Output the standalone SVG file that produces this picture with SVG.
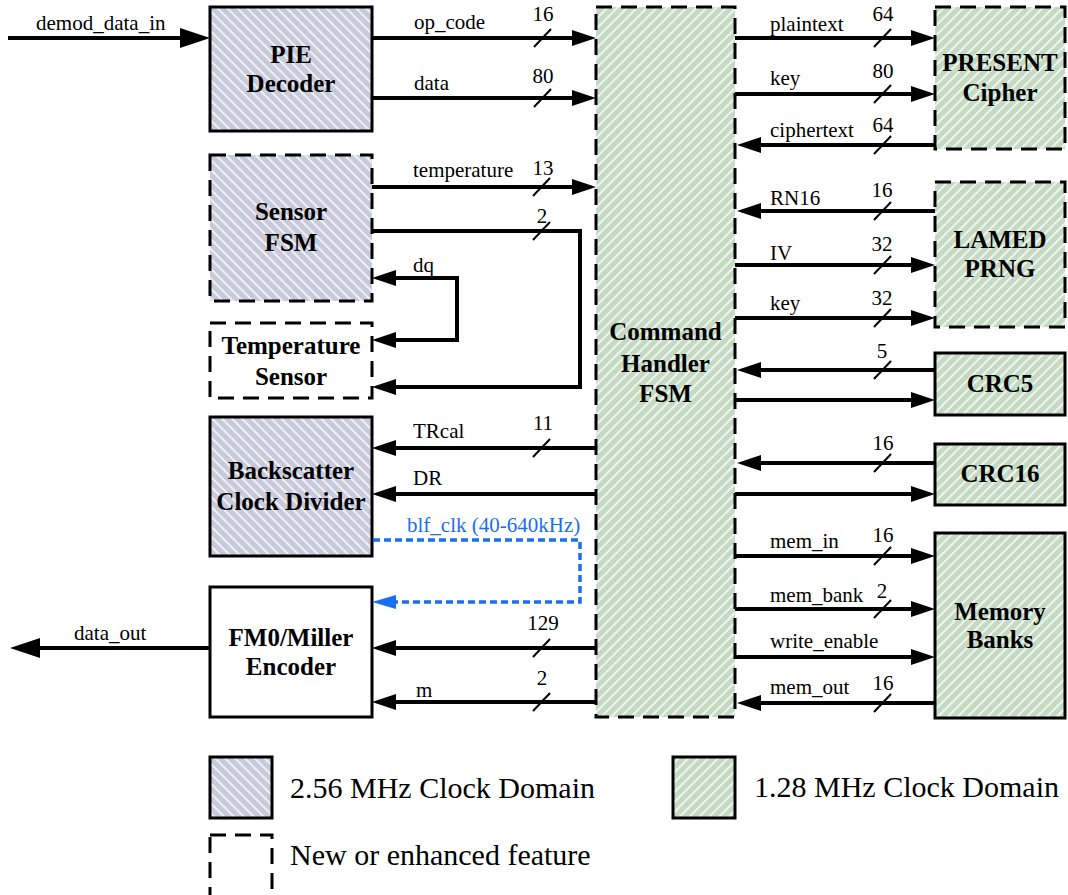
<svg xmlns="http://www.w3.org/2000/svg" width="1068" height="895" viewBox="0 0 1068 895">
<defs>
<pattern id="hb" patternUnits="userSpaceOnUse" width="7" height="7" patternTransform="rotate(-45)">
<rect width="7" height="7" fill="#c8c9da"/>
<line x1="1" y1="0" x2="1" y2="7" stroke="#ffffff" stroke-opacity="0.9" stroke-width="1.6"/>
</pattern>
<pattern id="hg" patternUnits="userSpaceOnUse" width="7" height="7" patternTransform="rotate(45)">
<rect width="7" height="7" fill="#c5dac3"/>
<line x1="1" y1="0" x2="1" y2="7" stroke="#ffffff" stroke-opacity="0.9" stroke-width="1.6"/>
</pattern>
<marker id="ah" markerUnits="userSpaceOnUse" markerWidth="24" markerHeight="16" refX="14" refY="8" orient="auto-start-reverse">
<path d="M0,0 L24,8 L0,16 z" fill="#000"/>
</marker>
<marker id="ahb" markerUnits="userSpaceOnUse" markerWidth="30" markerHeight="20" refX="18" refY="10" orient="auto">
<path d="M0,0 L30,10 L0,20 z" fill="#000"/>
</marker>
<marker id="ahblue" markerUnits="userSpaceOnUse" markerWidth="24" markerHeight="14" refX="14" refY="7" orient="auto">
<path d="M0,0 L24,7 L0,14 z" fill="#1a6ff0"/>
</marker>
</defs>
<style>
.box{stroke:#000;stroke-width:3}
.dash{stroke-dasharray:16 9}
.blk{font-family:"Liberation Serif","Times New Roman",serif;font-size:25px;font-weight:bold;text-anchor:middle;fill:#000}
.lbl{font-family:"Liberation Serif","Times New Roman",serif;font-size:21px;fill:#000}
.num{font-family:"Liberation Serif","Times New Roman",serif;font-size:21px;fill:#000;text-anchor:middle}
.leg{font-family:"Liberation Serif","Times New Roman",serif;font-size:30px;fill:#000}
.w{fill:none;stroke:#000;stroke-width:4;stroke-linejoin:miter}
.a{marker-end:url(#ah)}
.s{stroke:#000;stroke-width:2}
</style>

<g id="pie-decoder">
<rect class="box" x="210" y="7" width="162" height="124" fill="url(#hb)"/>
<text class="blk" x="291" y="63">PIE</text>
<text class="blk" x="291" y="92">Decoder</text>
</g>
<g id="sensor-fsm">
<rect class="box dash" x="210" y="155" width="162" height="146" fill="url(#hb)"/>
<text class="blk" x="291" y="220">Sensor</text>
<text class="blk" x="291" y="251">FSM</text>
</g>
<g id="temperature-sensor">
<rect class="box dash" x="210" y="323" width="162" height="75" fill="#fff"/>
<text class="blk" x="291" y="354">Temperature</text>
<text class="blk" x="291" y="385">Sensor</text>
</g>
<g id="backscatter-clock-divider">
<rect class="box" x="210" y="417" width="162" height="139" fill="url(#hb)"/>
<text class="blk" x="291" y="479">Backscatter</text>
<text class="blk" x="291" y="510">Clock Divider</text>
</g>
<g id="fm0-miller-encoder">
<rect class="box" x="210" y="587" width="162" height="130" fill="#fff"/>
<text class="blk" x="291" y="646">FM0/Miller</text>
<text class="blk" x="291" y="675">Encoder</text>
</g>
<g id="command-handler-fsm">
<rect class="box dash" x="596" y="7" width="139" height="710" fill="url(#hg)"/>
<text class="blk" x="665.5" y="340">Command</text>
<text class="blk" x="665.5" y="372">Handler</text>
<text class="blk" x="665.5" y="402">FSM</text>
</g>
<g id="present-cipher">
<rect class="box dash" x="935" y="7" width="130" height="142" fill="url(#hg)"/>
<text class="blk" x="1000" y="71">PRESENT</text>
<text class="blk" x="1000" y="101">Cipher</text>
</g>
<g id="lamed-prng">
<rect class="box dash" x="935" y="182" width="130" height="145" fill="url(#hg)"/>
<text class="blk" x="1000" y="248">LAMED</text>
<text class="blk" x="1000" y="277">PRNG</text>
</g>
<g id="crc5">
<rect class="box" x="935" y="353" width="130" height="62" fill="url(#hg)"/>
<text class="blk" x="1000" y="392">CRC5</text>
</g>
<g id="crc16">
<rect class="box" x="935" y="444" width="130" height="61" fill="url(#hg)"/>
<text class="blk" x="1000" y="482">CRC16</text>
</g>
<g id="memory-banks">
<rect class="box" x="935" y="533" width="130" height="185" fill="url(#hg)"/>
<text class="blk" x="1000" y="620">Memory</text>
<text class="blk" x="1000" y="648">Banks</text>
</g>

<g id="connectors">
<path class="w" d="M8,38 L198,38" marker-end="url(#ahb)"/>
<text class="lbl" x="36" y="30">demod_data_in</text>
<path class="w" d="M210,648 L22,648" marker-end="url(#ahb)"/>
<text class="lbl" x="74" y="640">data_out</text>

<path class="w a" d="M372,38 L586,38"/>
<text class="lbl" x="414" y="29">op_code</text>
<text class="num" x="543" y="21">16</text>
<line class="s" x1="534" y1="47" x2="551" y2="29"/>

<path class="w a" d="M372,98 L586,98"/>
<text class="lbl" x="414" y="90">data</text>
<text class="num" x="543" y="83">80</text>
<line class="s" x1="534" y1="107" x2="551" y2="89"/>

<path class="w a" d="M372,187 L586,187"/>
<text class="lbl" x="413" y="177">temperature</text>
<text class="num" x="543" y="175">13</text>
<line class="s" x1="533" y1="196" x2="550" y2="178"/>

<path class="w a" d="M372,231 L580,231 L580,387 L382,387"/>
<text class="num" x="542" y="223">2</text>
<line class="s" x1="533" y1="240" x2="550" y2="222"/>

<path class="w" d="M382,278 L457,278 L457,340 L382,340" marker-start="url(#ah)" marker-end="url(#ah)"/>
<text class="lbl" x="413" y="272">dq</text>

<path class="w a" d="M596,448 L382,448"/>
<text class="lbl" x="413" y="438">TRcal</text>
<text class="num" x="543" y="430">11</text>
<line class="s" x1="533" y1="457" x2="550" y2="439"/>

<path class="w a" d="M596,494 L382,494"/>
<text class="lbl" x="413" y="485">DR</text>

<path d="M373,540 L580,540 L580,602 L382,602" fill="none" stroke="#1a6ff0" stroke-width="3.5" stroke-dasharray="7 4" marker-end="url(#ahblue)"/>
<text class="lbl" x="407" y="532" style="fill:#1a6ff0">blf_clk (40-640kHz)</text>

<path class="w a" d="M596,648 L382,648"/>
<text class="num" x="543" y="630">129</text>
<line class="s" x1="533" y1="657" x2="550" y2="639"/>

<path class="w a" d="M596,702 L382,702"/>
<text class="lbl" x="416" y="697">m</text>
<text class="num" x="542" y="685">2</text>
<line class="s" x1="533" y1="711" x2="550" y2="693"/>

<path class="w a" d="M735,38 L925,38"/>
<text class="lbl" x="770" y="31">plaintext</text>
<text class="num" x="883" y="21">64</text>
<line class="s" x1="874" y1="47" x2="891" y2="29"/>

<path class="w a" d="M735,94 L925,94"/>
<text class="lbl" x="770" y="85">key</text>
<text class="num" x="883" y="78">80</text>
<line class="s" x1="874" y1="103" x2="891" y2="85"/>

<path class="w a" d="M935,145 L747,145"/>
<text class="lbl" x="770" y="137">ciphertext</text>
<text class="num" x="883" y="132">64</text>
<line class="s" x1="874" y1="154" x2="891" y2="136"/>

<path class="w a" d="M935,211 L747,211"/>
<text class="lbl" x="770" y="205">RN16</text>
<text class="num" x="882" y="197">16</text>
<line class="s" x1="874" y1="220" x2="891" y2="202"/>

<path class="w a" d="M735,265 L925,265"/>
<text class="lbl" x="770" y="260">IV</text>
<text class="num" x="882" y="251">32</text>
<line class="s" x1="874" y1="274" x2="891" y2="256"/>

<path class="w a" d="M735,318 L925,318"/>
<text class="lbl" x="770" y="310">key</text>
<text class="num" x="882" y="305">32</text>
<line class="s" x1="874" y1="327" x2="891" y2="309"/>

<path class="w a" d="M935,370 L747,370"/>
<text class="num" x="882" y="358">5</text>
<line class="s" x1="874" y1="379" x2="891" y2="361"/>

<path class="w a" d="M735,400 L925,400"/>

<path class="w a" d="M935,463 L747,463"/>
<text class="num" x="883" y="450">16</text>
<line class="s" x1="874" y1="472" x2="891" y2="454"/>

<path class="w a" d="M735,494 L925,494"/>

<path class="w a" d="M735,556 L925,556"/>
<text class="lbl" x="770" y="548">mem_in</text>
<text class="num" x="883" y="542">16</text>
<line class="s" x1="874" y1="565" x2="891" y2="547"/>

<path class="w a" d="M735,609 L925,609"/>
<text class="lbl" x="770" y="602">mem_bank</text>
<text class="num" x="882" y="598">2</text>
<line class="s" x1="874" y1="618" x2="891" y2="600"/>

<path class="w a" d="M735,657 L925,657"/>
<text class="lbl" x="770" y="648">write_enable</text>

<path class="w a" d="M935,703 L747,703"/>
<text class="lbl" x="770" y="694">mem_out</text>
<text class="num" x="883" y="690">16</text>
<line class="s" x1="874" y1="712" x2="891" y2="694"/>
</g>

<g id="legend">
<rect class="box" x="210" y="757" width="62" height="61" fill="url(#hb)"/>
<text class="leg" x="290" y="798">2.56 MHz Clock Domain</text>
<rect class="box" x="673" y="757" width="62" height="61" fill="url(#hg)"/>
<text class="leg" x="754" y="797">1.28 MHz Clock Domain</text>
<rect class="box dash" x="210" y="835" width="62" height="72" fill="none"/>
<text class="leg" x="290" y="865">New or enhanced feature</text>
</g>
</svg>
